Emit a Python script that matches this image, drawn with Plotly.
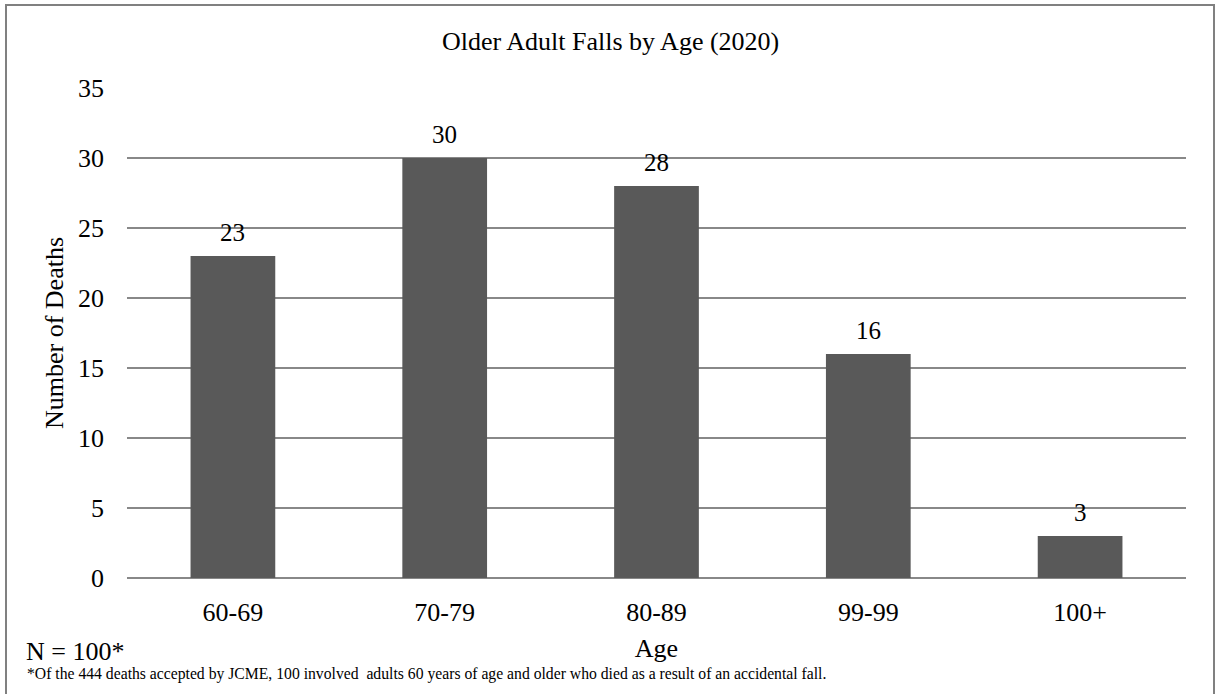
import plotly.graph_objects as go

categories = ["60-69", "70-79", "80-89", "99-99", "100+"]
deaths = [23, 30, 28, 16, 3]
y_ticks = [0, 5, 10, 15, 20, 25, 30, 35]

FONT = "Liberation Serif, Times New Roman, serif"
W, H = 1217, 694
L, R, T, B = 127, 1186, 88, 578  # plot area pixel bounds
PW, PH = R - L, B - T


def px(xp):
    return (xp - L) / PW


def py(yp):
    return (B - yp) / PH


fig = go.Figure(go.Bar(
    x=categories, y=deaths,
    marker=dict(color="#595959", line=dict(width=0)),
    width=0.4, hoverinfo="x+y",
))

for c, v in zip(categories, deaths):
    fig.add_annotation(x=c, y=v, text=str(v), showarrow=False, yshift=24,
                       xanchor="center", yanchor="middle",
                       font=dict(size=25, family=FONT, color="#000000"))

fig.update_layout(
    width=W, height=H,
    margin=dict(l=L, r=W - R, t=T, b=H - B),
    paper_bgcolor="white", plot_bgcolor="white",
    font=dict(family=FONT, color="#000000"),
    showlegend=False, bargap=0.6,
    xaxis=dict(showgrid=False, showline=False, zeroline=False,
               tickfont=dict(size=26, family=FONT), ticks="", ticklabelstandoff=16,
               title=dict(text="Age", font=dict(size=26, family=FONT), standoff=12)),
    yaxis=dict(range=[0, 35], tickvals=y_ticks, showgrid=True, gridcolor="#888888", gridwidth=1.5,
               zeroline=True, zerolinecolor="#888888", zerolinewidth=2, showline=False,
               tickfont=dict(size=26, family=FONT), ticks="", ticklabelstandoff=22,
               title=dict(text="Number of Deaths", font=dict(size=26, family=FONT), standoff=6)),
)

fig.add_annotation(text="Older Adult Falls by Age (2020)", xref="paper", yref="paper",
                   x=px(610), y=py(42), xanchor="center", yanchor="middle",
                   showarrow=False, font=dict(size=26, family=FONT))

fig.add_shape(type="rect", xref="paper", yref="paper",
              x0=px(6), x1=px(1214), y0=py(H + 5), y1=py(5),
              line=dict(color="#808080", width=2), fillcolor="rgba(0,0,0,0)", layer="below")

fig.add_annotation(text="N = 100*", xref="paper", yref="paper",
                   x=px(24), y=py(651), xanchor="left", yanchor="middle",
                   showarrow=False, font=dict(size=26, family=FONT))
fig.add_annotation(text="*Of the 444 deaths accepted by JCME, 100 involved  adults 60 years of age and older who died as a result of an accidental fall.",
                   xref="paper", yref="paper",
                   x=px(25), y=py(674), xanchor="left", yanchor="middle",
                   showarrow=False, font=dict(size=15.7, family=FONT))

fig.write_html("out.html", config={"displayModeBar": False},
               post_script="document.body.style.margin='0';document.body.style.overflow='hidden';")
